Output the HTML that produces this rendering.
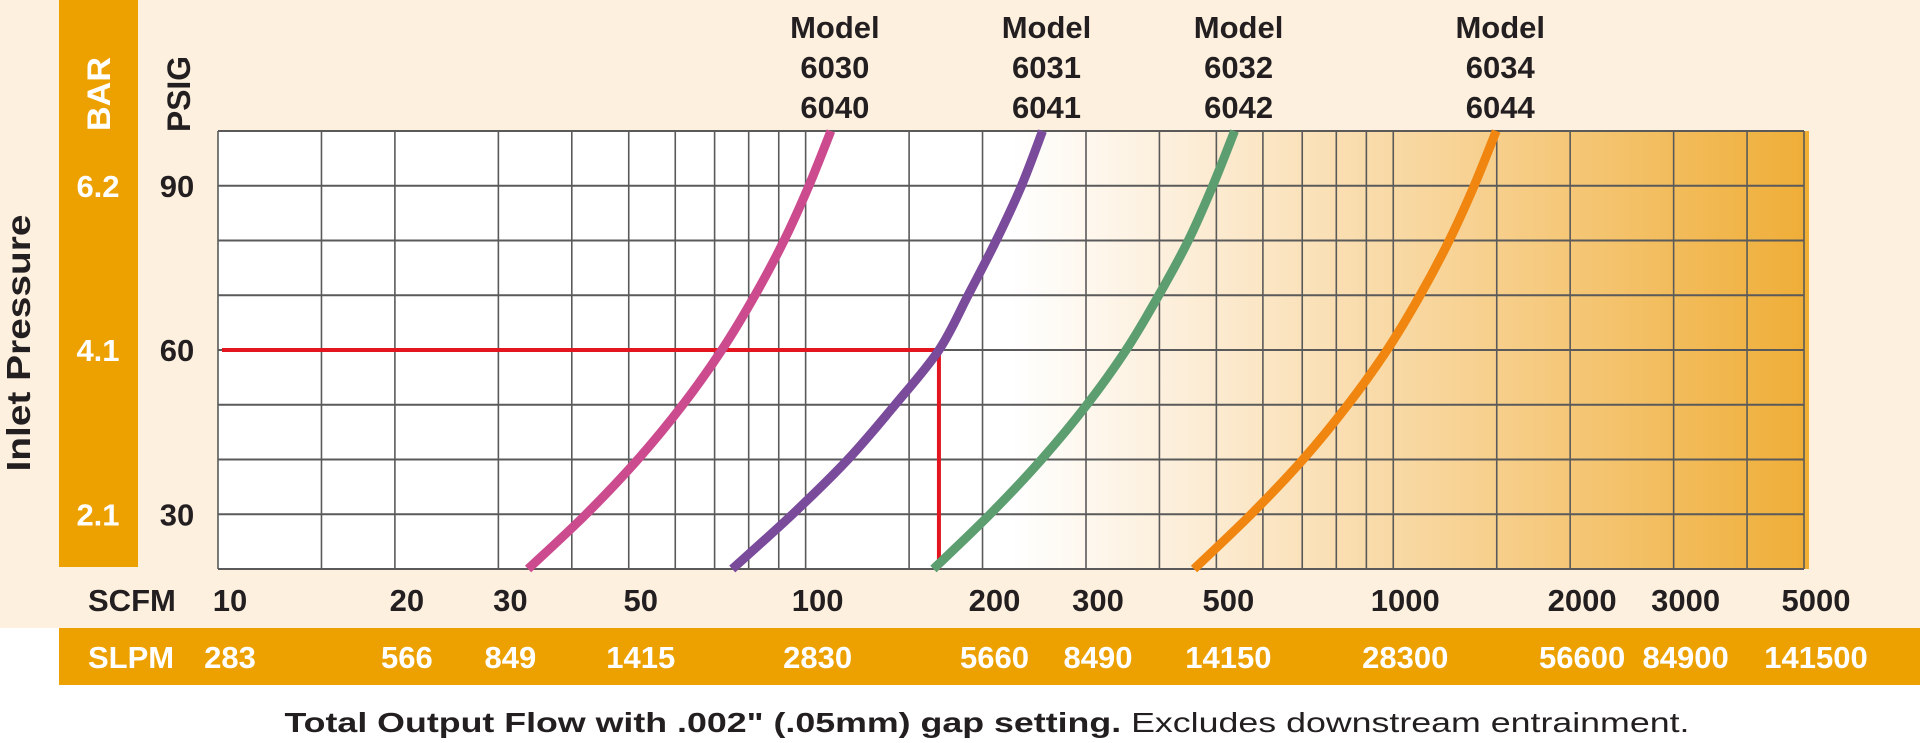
<!DOCTYPE html>
<html><head><meta charset="utf-8"><style>
html,body{margin:0;padding:0;background:#fff;}
svg{display:block;font-family:"Liberation Sans",Arial,sans-serif;}
</style></head><body>
<svg id="chart" width="1920" height="743" viewBox="0 0 1920 743">
<defs>
<linearGradient id="plotbg" x1="218" x2="1804" y1="0" y2="0" gradientUnits="userSpaceOnUse">
<stop offset="0" stop-color="#ffffff"/>
<stop offset="0.5" stop-color="#ffffff"/>
<stop offset="0.62" stop-color="#fcecd4"/>
<stop offset="0.8" stop-color="#f7d08e"/>
<stop offset="1" stop-color="#efae38"/>
</linearGradient>
</defs>
<rect x="0" y="0" width="1920" height="628" fill="#fdf0df"/>
<rect x="59" y="0" width="79" height="567" fill="#eda100"/>
<rect x="59" y="628" width="1861" height="57" fill="#eda100"/>
<rect x="218" y="131" width="1586" height="438" fill="url(#plotbg)"/>
<rect x="1803" y="131" width="6" height="438" fill="#f2b032"/>
<g id="grid"></g>
<g id="marks"></g>
<text x="0" y="0" transform="translate(30,343) rotate(-90)" text-anchor="middle" font-size="33" font-weight="bold" fill="#231f20" textLength="257" lengthAdjust="spacingAndGlyphs">Inlet Pressure</text>
<text x="0" y="0" transform="translate(110,94) rotate(-90)" text-anchor="middle" font-size="32" font-weight="bold" fill="#fff" textLength="74" lengthAdjust="spacingAndGlyphs">BAR</text>
<text x="0" y="0" transform="translate(190,94) rotate(-90)" text-anchor="middle" font-size="32" font-weight="bold" fill="#231f20" textLength="76" lengthAdjust="spacingAndGlyphs">PSIG</text>
<text x="88" y="611" font-size="31" font-weight="bold" fill="#231f20">SCFM</text>
<text x="88" y="668" font-size="31" font-weight="bold" fill="#fff">SLPM</text>
<text x="987" y="732" text-anchor="middle" font-size="28" fill="#231f20" textLength="1405" lengthAdjust="spacingAndGlyphs"><tspan font-weight="bold">Total Output Flow with .002" (.05mm) gap setting.</tspan> Excludes downstream entrainment.</text>
<g id="labels"></g>
</svg>
<script>
const gridFlows=[10,15,20,30,40,50,60,70,80,90,100,150,200,300,400,500,600,700,800,900,1000,1500,2000,3000,4000,5000];
const gridPsig=[20,30,40,50,60,70,80,90,100];
const psigTicks=[30,60,90];
const barTicks=["2.1","4.1","6.2"];
const scfmTicks=[10,20,30,50,100,200,300,500,1000,2000,3000,5000];
const slpmTicks=["283","566","849","1415","2830","5660","8490","14150","28300","56600","84900","141500"];
const curvePsig=[20,30,40,50,60,70,80,90,100];
const flow6030=[33.7,42.3,51.8,61.8,72,82,91.9,101.3,110.4];
const flow6031=[75,95,118,142,168.6,189,211,233,253];
const flow6032=[165,206,252,301,351,399,448,493,537];
const flow6034=[458,573,702,837,976,1111,1245,1373,1497];
const modelNames=[["6030","6040"],["6031","6041"],["6032","6042"],["6034","6044"]];
const refPsig=60;
const refFlow=168.6;

const X0=218,X1=1804,Y0=569,Y1=131;
function xs(v){return X0+(Math.log10(v)-1)/(Math.log10(5000)-1)*(X1-X0);}
function ys(p){return Y0-(p-20)/80*(Y0-Y1);}
const NS="http://www.w3.org/2000/svg";
function mk(tag,parent,attrs){const e=document.createElementNS(NS,tag);for(const k in attrs)e.setAttribute(k,attrs[k]);parent.appendChild(e);return e;}
const grid=document.getElementById('grid'),marks=document.getElementById('marks'),labels=document.getElementById('labels');
gridFlows.forEach(v=>{
  const l=mk('line',grid,{x1:xs(v),x2:xs(v),y1:Y1,y2:Y0,stroke:'#5a5a5a','stroke-width':1.6});
  
  
});
gridPsig.forEach(p=>{
  const l=mk('line',grid,{x1:X0,x2:X1,y1:ys(p),y2:ys(p),stroke:'#5a5a5a','stroke-width':2});
  
  
});
const rh=mk('line',marks,{x1:X0+4,x2:xs(refFlow),y1:ys(refPsig),y2:ys(refPsig),stroke:'#e3161f','stroke-width':4});


const rv=mk('line',marks,{x1:xs(refFlow),x2:xs(refFlow),y1:ys(refPsig)-2,y2:Y0,stroke:'#e3161f','stroke-width':4});


const series=[[flow6030,'#cc4b8f'],[flow6031,'#7a4a9b'],[flow6032,'#5c9e70'],[flow6034,'#f0850f']];
series.forEach((s,i)=>{
  const pts=s[0].map((f,j)=>[xs(f),ys(curvePsig[j])]);
  let d='M'+pts[0][0]+','+pts[0][1];
  for(let j=0;j<pts.length-1;j++){
    const p0=pts[Math.max(0,j-1)],p1=pts[j],p2=pts[j+1],p3=pts[Math.min(pts.length-1,j+2)];
    d+=' C'+(p1[0]+(p2[0]-p0[0])/6)+','+(p1[1]+(p2[1]-p0[1])/6)+' '+(p2[0]-(p3[0]-p1[0])/6)+','+(p2[1]-(p3[1]-p1[1])/6)+' '+p2[0]+','+p2[1];
  }
  const path=mk('path',marks,{d:d,fill:'none',stroke:s[1],'stroke-width':9});
  
  
  const top=s[0][s[0].length-1];
  const cx=xs(top)+4;
  ['Model',modelNames[i][0],modelNames[i][1]].forEach((t,k)=>{
    const tx=mk('text',labels,{x:cx,y:38+k*40,'text-anchor':'middle','font-size':31,'font-weight':'bold',fill:'#231f20'});
    tx.textContent=t;
    
    
  });
});
psigTicks.forEach((p,i)=>{
  const t=mk('text',labels,{x:177,y:ys(p)+11,'text-anchor':'middle','font-size':31,'font-weight':'bold',fill:'#231f20'});
  t.textContent=p;
  
  
  const b=mk('text',labels,{x:98,y:ys(p)+11,'text-anchor':'middle','font-size':31,'font-weight':'bold',fill:'#fff'});
  b.textContent=barTicks[i];
  
  
});
scfmTicks.forEach((v,i)=>{
  const x=xs(v)+12;
  const t=mk('text',labels,{x:x,y:611,'text-anchor':'middle','font-size':31,'font-weight':'bold',fill:'#231f20'});
  t.textContent=v;
  
  
  const s=mk('text',labels,{x:x,y:668,'text-anchor':'middle','font-size':31,'font-weight':'bold',fill:'#fff'});
  s.textContent=slpmTicks[i];
  
  
});
</script>
</body></html>
